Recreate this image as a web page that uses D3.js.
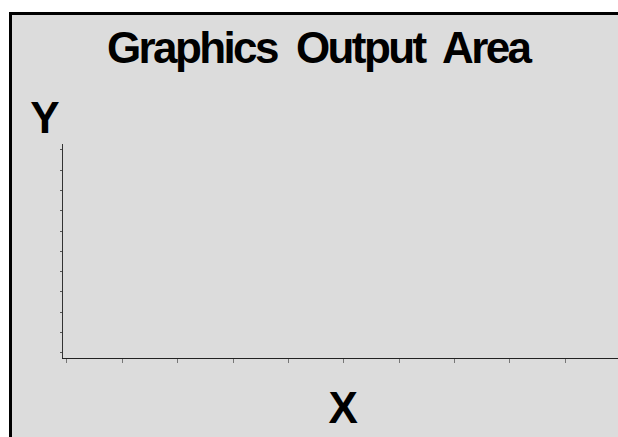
<!DOCTYPE html>
<html>
<head>
<meta charset="utf-8">
<script src="https://cdn.jsdelivr.net/npm/d3@7"></script>
<style>
  html, body { margin: 0; padding: 0; background: #fff; overflow: hidden; }
  svg { display: block; }
</style>
</head>
<body>
<svg id="chart" width="618" height="437"></svg>
<script>
'use strict';

// empty output area: only axes, ticks and labels
const titleText = 'Graphics  Output  Area';
const xLabel = 'X';
const yLabel = 'Y';
const xTicks = [0, 1, 2, 3, 4, 5, 6, 7, 8, 9];
const yTicks = [0, 1, 2, 3, 4, 5, 6, 7, 8, 9, 10];

const svg = d3.select('#chart');
const font = '"Liberation Sans", Arial, Helvetica, sans-serif';
const panelFill = '#dcdcdc';

// panel fill, then the frame: only top and left edges fall inside the window
svg.append('rect')
  .attr('x', 9).attr('y', 12)
  .attr('width', 609).attr('height', 425)
  .attr('fill', panelFill);
svg.append('path')
  .attr('d', 'M10.5,437 V13.5 H618')
  .attr('fill', 'none')
  .attr('stroke', '#000')
  .attr('stroke-width', 3);

const x = d3.scaleLinear().domain([0, 9]).range([66.3, 564.9]);
const y = d3.scaleLinear().domain([0, 10]).range([352.3, 149.3]);

// y axis line
svg.append('line')
  .attr('x1', 62.5).attr('x2', 62.5)
  .attr('y1', 144).attr('y2', 358.5)
  .attr('stroke', '#333').attr('stroke-width', 1);

// y ticks (left of axis)
svg.append('g').selectAll('line')
  .data(yTicks)
  .join('line')
  .attr('x1', 60).attr('x2', 62)
  .attr('y1', d => Math.round(y(d)) + 0.5)
  .attr('y2', d => Math.round(y(d)) + 0.5)
  .attr('stroke', '#555');

// x ticks (below axis)
svg.append('g').selectAll('line')
  .data(xTicks)
  .join('line')
  .attr('x1', d => Math.round(x(d)) + 0.5)
  .attr('x2', d => Math.round(x(d)) + 0.5)
  .attr('y1', 359).attr('y2', 363)
  .attr('stroke', '#777');

// title
svg.append('text')
  .attr('x', 107)
  .attr('y', 63)
  .attr('textLength', 425)
  .attr('lengthAdjust', 'spacing')
  .style('white-space', 'pre')
  .attr('font-family', font)
  .attr('font-weight', 'bold')
  .attr('font-size', 44)
  .attr('fill', '#000')
  .text(titleText);

// axis labels
svg.append('text')
  .attr('x', 45).attr('y', 133)
  .attr('text-anchor', 'middle')
  .attr('font-family', font)
  .attr('font-weight', 'bold')
  .attr('font-size', 44)
  .text(yLabel);

svg.append('text')
  .attr('x', x(5)).attr('y', 423)
  .attr('text-anchor', 'middle')
  .attr('font-family', font)
  .attr('font-weight', 'bold')
  .attr('font-size', 44)
  .text(xLabel);

// keep the right edge open (panel runs past the window)
svg.append('rect')
  .attr('x', 610).attr('y', 15)
  .attr('width', 8).attr('height', 422)
  .attr('fill', panelFill);

// x axis line, drawn last so it runs to the edge
svg.append('line')
  .attr('x1', 62).attr('x2', 618)
  .attr('y1', 358.5).attr('y2', 358.5)
  .attr('stroke', '#222').attr('stroke-width', 1);
</script>
</body>
</html>
